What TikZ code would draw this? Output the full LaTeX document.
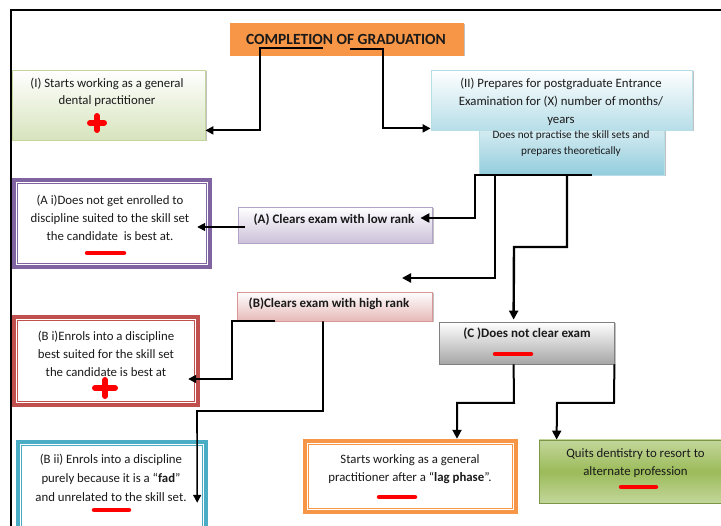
\documentclass[tikz,border=0pt]{standalone}
\usepackage{fontspec}
\setmainfont{Carlito}
\usetikzlibrary{arrows.meta,calc,shadows}
\definecolor{orng}{HTML}{F79646}
\definecolor{purp}{HTML}{8064A2}
\definecolor{redb}{HTML}{C0504D}
\definecolor{blub}{HTML}{4BACC6}
\definecolor{grnl}{HTML}{D7E4BD}
\definecolor{grnb}{HTML}{C3D69B}
\definecolor{grnd}{HTML}{9BBB59}
\definecolor{blul}{HTML}{B7DEE8}
\definecolor{blum}{HTML}{93CDDD}
\definecolor{lav}{HTML}{CCC1DA}
\definecolor{lavb}{HTML}{B3A2C7}
\definecolor{pnk}{HTML}{E6B9B8}
\definecolor{pnkb}{HTML}{D99694}
\definecolor{gry}{HTML}{A6A6A6}
\definecolor{txtc}{HTML}{1A1A1A}
\newcommand\dblframe[1]{%
  \fill[white] ($(#1.north west)+(6.5,6.5)$) rectangle ($(#1.south east)+(-6.5,-6.5)$);
  \draw[white,line width=1.2pt] ($(#1.north west)+(4.6,4.6)$) rectangle ($(#1.south east)+(-4.6,-4.6)$);}
\begin{document}
\begin{tikzpicture}[x=1pt,y=-1pt,
  box/.style={draw, line width=0.8pt, inner sep=0pt,
    drop shadow={shadow xshift=1.5pt,shadow yshift=-1.5pt,fill=black!40,opacity=0.6}},
  dbox/.style={fill=#1, draw=none, inner sep=0pt},
  txt/.style={font=\fontsize{12.8}{18}\selectfont, align=center, inner sep=0pt, text=txtc},
  btxt/.style={font=\fontsize{13}{18}\selectfont\bfseries, align=center, inner sep=0pt, text=txtc},
  arr/.style={-{Triangle[length=8pt,width=8pt]}, line width=1.6pt},
  harr/.style={-{Triangle[length=9pt,width=9pt]}, line width=2.4pt},
  reddash/.style={red, line width=4.5pt, line cap=round},
  redcross/.style={red, line width=6pt, line cap=round}]
\clip (0,0) rectangle (721,526);
\fill[white] (0,0) rectangle (721,526);
% frame
\draw[line width=1.5pt] (11,526) -- (11,10) -- (721,10);

% boxes
\node[box, draw=grnb, top color=white, bottom color=grnl, minimum width=193pt, minimum height=70pt] (I) at (108.5,105) {};
\node[box, draw=blul, top color=blul!60, bottom color=blum, minimum width=185pt, minimum height=45pt] (S) at (571.5,152.5) {};
\node[box, draw=blul, top color=white, bottom color=blul, minimum width=261pt, minimum height=60pt] (II) at (561.5,100) {};
\node[box, draw=orng, fill=orng, minimum width=233pt, minimum height=32pt] (T) at (346.5,39) {};
\node[box, draw=lavb, top color=white, bottom color=lav, minimum width=194pt, minimum height=36pt] (A) at (335,225) {};
\node[box, draw=pnkb, top color=white, bottom color=pnk, minimum width=195pt, minimum height=29pt] (B) at (334.5,306.5) {};
\node[box, draw=black!50, top color=white, bottom color=gry, minimum width=175pt, minimum height=42pt] (C) at (526.5,343) {};
\node[box, draw=grnd!80!black, top color=grnb, bottom color=grnb, middle color=grnd, minimum width=182pt, minimum height=63pt] (Q) at (630,471.5) {};

\node[dbox=purp, minimum width=200pt, minimum height=91pt] (Ai) at (112,223.5) {};
\dblframe{Ai}
\node[dbox=redb, minimum width=188pt, minimum height=92pt] (Bi) at (106,361) {};
\dblframe{Bi}
\node[dbox=blub, minimum width=192pt, minimum height=96pt] (Bii) at (112,488) {};
\dblframe{Bii}
\node[dbox=orng, minimum width=215pt, minimum height=75pt] (L) at (410.5,476.5) {};
\dblframe{L}

% texts
\node[font=\fontsize{15.5}{17}\selectfont\bfseries, text=txtc, inner sep=0pt] (tT) at (346,39) {COMPLETION OF GRADUATION};
\node[txt, font=\fontsize{12.8}{17}\selectfont] (tI) at (107,92.5) {(I) Starts working as a general\\dental practitioner};
\node[txt] (tII) at (561,102) {(II) Prepares for postgraduate Entrance\\Examination for (X) number of months/\\years};
\node[txt, font=\fontsize{11.2}{16}\selectfont] (tS) at (571,144) {Does not practise the skill sets and\\prepares theoretically};
\node[txt] (tAi) at (110,218) {(A i)Does not get enrolled to\\discipline suited to the skill set\\the candidate \ is best at.};
\node[btxt] (tA) at (334,220) {(A) Clears exam with low rank};
\node[btxt] (tB) at (329,304) {(B)Clears exam with high rank};
\node[btxt] (tC) at (527,334) {(C )Does not clear exam};
\node[txt] (tBi) at (106,354) {(B i)Enrols into a discipline\\best suited for the skill set\\the candidate is best at};
\node[txt, font=\fontsize{12.8}{19}\selectfont] (tBii) at (111,478) {(B ii) Enrols into a discipline\\purely because it is a “\textbf{fad}”\\and unrelated to the skill set.};
\node[txt] (tL) at (410,469) {Starts working as a general\\practitioner after a “\textbf{lag phase}”.};
\node[txt] (tQ) at (635.5,463) {Quits dentistry to resort to\\alternate profession};

% red marks
\draw[redcross] (90,123) -- (104,123) (97,116) -- (97,130);
\draw[redcross] (95,388) -- (115,388) (105,380) -- (105,396);
\draw[reddash] (87,253) -- (124,253);
\draw[reddash] (94,510) -- (129,510);
\draw[reddash] (495,354) -- (531,354);
\draw[reddash] (379,497) -- (415,497);
\draw[reddash] (621,487) -- (656,487);

% connector coordinates
\coordinate (t1) at (323,48);
\coordinate (t2) at (350,49);
\coordinate (free) at (402,278);
\coordinate (b1) at (275,321);

% connectors
\draw[arr, line width=2pt] (t1) -- (260,48) |- ($(I.south east)+(0,-10)$);
\draw[arr, line width=2pt] (t2) -- (383,49) |- ($(II.south west)+(0,-2)$);
\draw[harr] (592,175) -- (475,175) |- ($(A.east)+(-12,-7)$);
\draw[harr] (495,175) |- (free);
\draw[harr] (567,175) -- (567,247) -- (514,247) -- ($(C.north west)+(75,-2)$);
\draw[arr] ($(A.west)+(7,2)$) -- ($(Ai.east)+(-15,3.5)$);
\draw[arr] (b1) -- (232,321) |- ($(Bi.east)+(-12,18)$);
\draw[arr] (B.south -| 323,0) -- (323,411) -- (197,411) -- ($(Bii.north east)+(-11,63)$);
\draw[harr, line width=2pt] ($(C.south west)+(75,0)$) -- (514,403) -- (457,403) -- ($(L.north)+(46.5,0)$);
\draw[harr, line width=2pt] (C.south east) -- (614,403) -- (557,403) -- ($(Q.north west)+(18,0)$);
\end{tikzpicture}
\end{document}
